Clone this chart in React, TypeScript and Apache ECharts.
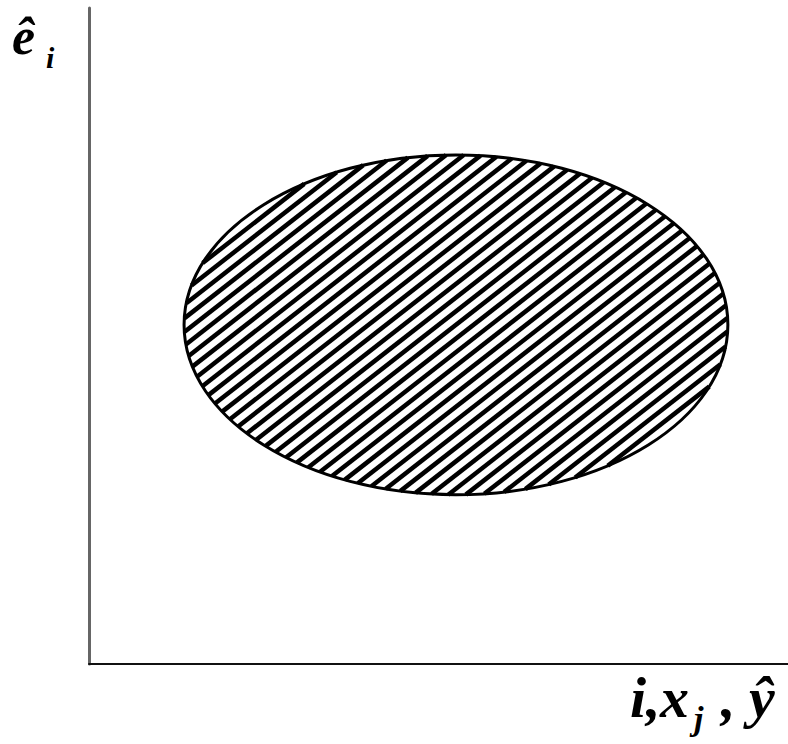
import React, { useEffect, useRef } from "react";
import * as echarts from "echarts";

// Residual scatter region: an ellipse in data units (0..100 on both axes)
const ELLIPSE_CENTER: number[] = [52.5, 51.7];
const ELLIPSE_RADII: number[] = [38.9, 25.9];

// Axis labels
const Y_LABEL_MAIN = "ê";
const Y_LABEL_SUB = "i";
const X_LABEL_PARTS: string[] = ["i,", "x", "j", ",", "ŷ"];

const SERIF = "'Liberation Serif', 'Times New Roman', 'DejaVu Serif', serif";

// Hatching: slope of the stripes and their horizontal spacing in pixels
const HATCH_SLOPE = 0.78;
const HATCH_STEP_X = 17.5;

function renderEllipse(params: any, api: any) {
  const c = api.coord([api.value(0), api.value(1)]);
  const size = api.size([api.value(2), api.value(3)]);
  const rx = size[0];
  const ry = size[1];
  const cx = c[0];
  const cy = c[1];
  const k = HATCH_SLOPE;
  const step = HATCH_STEP_X * k;
  const A = 1 / (rx * rx) + (k * k) / (ry * ry);
  const children: any[] = [];
  const maxD = ry + k * rx + step;
  for (let d = -Math.floor(maxD / step) * step; d <= maxD; d += step) {
    // stripe: (y - cy) = d - k (x - cx), in screen coordinates
    const B = (-2 * d * k) / (ry * ry);
    const C = (d * d) / (ry * ry) - 1;
    const disc = B * B - 4 * A * C;
    if (disc <= 0) continue;
    const s = Math.sqrt(disc);
    const u1 = (-B - s) / (2 * A);
    const u2 = (-B + s) / (2 * A);
    children.push({
      type: "line",
      shape: {
        x1: cx + u1,
        y1: cy + d - k * u1,
        x2: cx + u2,
        y2: cy + d - k * u2,
      },
      style: { stroke: "#000", lineWidth: 4.5 },
    });
  }
  children.push({
    type: "ellipse",
    shape: { cx, cy, rx, ry },
    style: { fill: "none", stroke: "#000", lineWidth: 3 },
  });
  return { type: "group", children };
}

function label(text: string, left: number, top: number, size: number) {
  return {
    type: "text",
    left,
    top,
    style: { text, font: `italic bold ${size}px ${SERIF}`, fill: "#000" },
  };
}

export default function App() {
  const ref = useRef<HTMLDivElement>(null);

  useEffect(() => {
    if (!ref.current) return;
    const chart = echarts.init(ref.current, null, { renderer: "svg" });
    chart.setOption({
      animation: false,
      backgroundColor: "#fff",
      grid: { left: 89, right: 0, top: 8, bottom: 80 },
      xAxis: {
        type: "value",
        min: 0,
        max: 100,
        axisLine: { show: true, onZero: false, lineStyle: { color: "#111", width: 2 } },
        axisTick: { show: false },
        axisLabel: { show: false },
        splitLine: { show: false },
      },
      yAxis: {
        type: "value",
        min: 0,
        max: 100,
        axisLine: { show: true, onZero: false, lineStyle: { color: "#666", width: 3 } },
        axisTick: { show: false },
        axisLabel: { show: false },
        splitLine: { show: false },
      },
      series: [
        {
          type: "custom",
          coordinateSystem: "cartesian2d",
          clip: false,
          renderItem: renderEllipse,
          data: [[ELLIPSE_CENTER[0], ELLIPSE_CENTER[1], ELLIPSE_RADII[0], ELLIPSE_RADII[1]]],
        },
      ],
      graphic: [
        label(Y_LABEL_MAIN, 12, 10, 52),
        label(Y_LABEL_SUB, 46, 42, 30),
        label(X_LABEL_PARTS[0], 630, 668, 58),
        label(X_LABEL_PARTS[1], 660, 668, 58),
        label(X_LABEL_PARTS[2], 694, 701, 34),
        label(X_LABEL_PARTS[3], 721, 668, 58),
        label(X_LABEL_PARTS[4], 749, 668, 58),
      ],
    });
    return () => chart.dispose();
  }, []);

  return (
    <div
      ref={ref}
      style={{ position: "fixed", left: 0, top: 0, width: 788, height: 744 }}
    />
  );
}
